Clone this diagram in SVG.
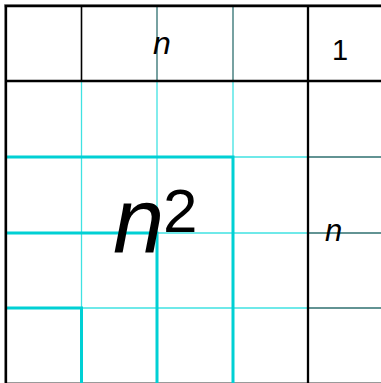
<svg xmlns="http://www.w3.org/2000/svg" width="381" height="383" viewBox="0 0 381 383">
<style>
.frame{stroke:#9a9a9a;stroke-width:1;fill:none}
.thin{stroke:#3fe2e2;stroke-width:1.3;fill:none}
.thick{stroke:#00d0d4;stroke-width:3;fill:none}
.teal{stroke:#2e6f6f;stroke-width:1.3;fill:none}
.blk{stroke:#000;stroke-width:2.3;fill:none}
.blk2{stroke:#000;stroke-width:1.6;fill:none}
text{font-family:"Liberation Sans",Arial,sans-serif;fill:#000}
.it{font-style:italic}
</style>
<rect width="381" height="383" fill="#fff"/>
<g id="frame">
<line class="frame" x1="4.5" y1="4" x2="4.5" y2="383"/>
<line class="frame" x1="4" y1="4.5" x2="381" y2="4.5"/>
<line class="frame" x1="4" y1="382.5" x2="381" y2="382.5"/>
</g>
<g id="grid-thin">
<line class="thin" x1="233" y1="157" x2="308" y2="157"/>
<line class="thin" x1="233" y1="81" x2="233" y2="157"/>
<line class="thin" x1="157" y1="233" x2="308" y2="233"/>
<line class="thin" x1="157" y1="81" x2="157" y2="233"/>
<line class="thin" x1="81" y1="308" x2="308" y2="308"/>
<line class="thin" x1="81.5" y1="81" x2="81.5" y2="308"/>
</g>
<g id="grid-teal">
<line class="teal" x1="308" y1="157" x2="381" y2="157"/>
<line class="teal" x1="308" y1="233" x2="381" y2="233"/>
<line class="teal" x1="308" y1="308" x2="381" y2="308"/>
<line class="teal" x1="157" y1="6" x2="157" y2="81"/>
<line class="teal" x1="233" y1="6" x2="233" y2="81"/>
</g>
<g id="squares">
<path class="thick" d="M6 157H233V383"/>
<path class="thick" d="M6 233H157V383"/>
<path class="thick" d="M6 308H81.5V383"/>
</g>
<g id="outline">
<line class="blk" x1="4.8" y1="6" x2="381" y2="6"/>
<line class="blk" x1="6" y1="5" x2="6" y2="383"/>
<line class="blk" x1="6" y1="81" x2="381" y2="81"/>
<line class="blk" x1="308" y1="6" x2="308" y2="383"/>
<line class="blk2" x1="81.5" y1="6" x2="81.5" y2="81"/>
</g>
<g id="labels">
<text class="it" x="153" y="54" font-size="32">n</text>
<text x="340" y="60" font-size="29" text-anchor="middle">1</text>
<text class="it" x="113" y="253" font-size="92">n</text>
<text x="163" y="232" font-size="62">2</text>
<text class="it" x="325" y="241" font-size="31">n</text>
</g>
</svg>
